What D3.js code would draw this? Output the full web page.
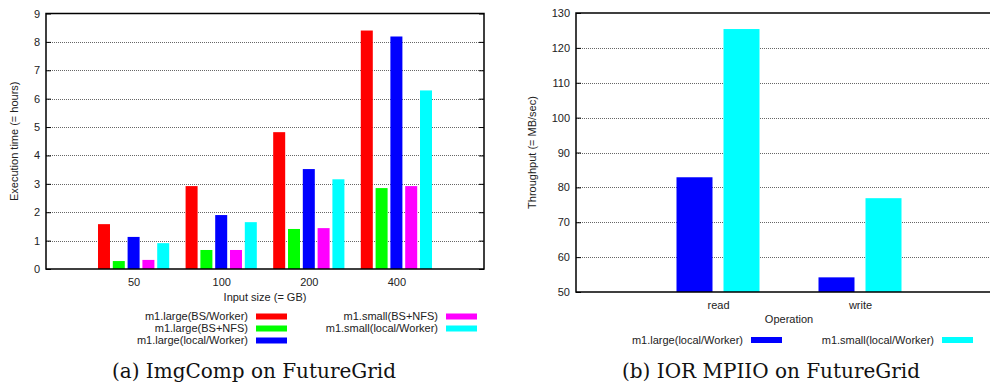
<!DOCTYPE html>
<html>
<head>
<meta charset="utf-8">
<script src="https://cdn.jsdelivr.net/npm/d3@7"></script>
<style>
  html, body { margin: 0; padding: 0; background: #fff; }
  svg { display: block; }
  text { font-family: "Liberation Sans", Arial, sans-serif; fill: #222; }
  .caption { font-family: "DejaVu Serif", "Liberation Serif", serif; fill: #111; }
</style>
</head>
<body>
<svg id="chart" width="990" height="383"></svg>
<script>
// ---- (a) ImgComp execution time ----
const sizeCategories = ["50", "100", "200", "400"];
const imgSeriesNames = [
  "m1.large(BS/Worker)",
  "m1.large(BS+NFS)",
  "m1.large(local/Worker)",
  "m1.small(BS+NFS)",
  "m1.small(local/Worker)"
];
const largeBsWorker   = [1.58, 2.92, 4.82, 8.40];
const largeBsNfs      = [0.28, 0.67, 1.41, 2.85];
const largeLocal      = [1.13, 1.90, 3.52, 8.19];
const smallBsNfs      = [0.32, 0.67, 1.44, 2.92];
const smallLocal      = [0.91, 1.65, 3.16, 6.29];
const imgTicks = [0, 1, 2, 3, 4, 5, 6, 7, 8, 9];

// ---- (b) IOR MPIIO throughput ----
const operations = ["read", "write"];
const iorSeriesNames = ["m1.large(local/Worker)", "m1.small(local/Worker)"];
const iorLarge = [82.9, 54.2];
const iorSmall = [125.4, 76.9];
const iorTicks = [50, 60, 70, 80, 90, 100, 110, 120, 130];

const imgColors = ["#ff0000", "#00ff00", "#0000ff", "#ff00ff", "#00ffff"];
const iorColors = ["#0000ff", "#00ffff"];

const svg = d3.select("#chart");

function drawPanel(cfg) {
  const g = svg.append("g");
  const x = d3.scaleLinear().domain(cfg.xDomain).range([cfg.left, cfg.right]);
  const y = d3.scaleLinear().domain(cfg.yDomain).range([cfg.bottom, cfg.top]);
  const clipRight = Math.min(cfg.right, 990);

  // dotted grid lines on interior ticks
  g.append("g").selectAll("line")
    .data(cfg.ticks.slice(1, -1))
    .join("line")
    .attr("x1", cfg.left).attr("x2", clipRight)
    .attr("y1", d => Math.round(y(d)) + 0.5).attr("y2", d => Math.round(y(d)) + 0.5)
    .attr("stroke", "#666").attr("stroke-width", 1)
    .attr("stroke-dasharray", "1,1");

  // bars
  const nS = cfg.series.length;
  cfg.series.forEach((vals, si) => {
    g.append("g").selectAll("rect")
      .data(vals)
      .join("rect")
      .attr("x", (d, ci) => x(ci + (si - (nS - 1) / 2) * cfg.step - cfg.barW / 2))
      .attr("width", x(cfg.barW) - x(0))
      .attr("y", d => y(d))
      .attr("height", d => y(cfg.yDomain[0]) - y(d))
      .attr("fill", cfg.colors[si]);
  });

  // left axis with inward ticks
  const yAxis = d3.axisLeft(y).tickValues(cfg.ticks).tickSize(-5).tickPadding(6)
    .tickFormat(d3.format("d"));
  const ya = g.append("g").attr("transform", `translate(${cfg.left},0)`).call(yAxis);
  ya.select(".domain").remove();
  ya.selectAll(".tick line").attr("stroke", "#000");
  ya.selectAll("text").style("font-size", "11px").attr("fill", "#222");

  // mirrored ticks on the right edge when visible
  if (cfg.right <= 990) {
    const yr = g.append("g").attr("transform", `translate(${cfg.right},0)`)
      .call(d3.axisRight(y).tickValues(cfg.ticks).tickSize(-5).tickFormat(""));
    yr.select(".domain").remove();
    yr.selectAll(".tick line").attr("stroke", "#000");
  }

  // category labels
  const xAxis = d3.axisBottom(x).tickValues(d3.range(cfg.categories.length))
    .tickSize(0).tickPadding(9).tickFormat(i => cfg.categories[i]);
  const xa = g.append("g").attr("transform", `translate(0,${cfg.bottom})`).call(xAxis);
  xa.select(".domain").remove();
  xa.selectAll("text").style("font-size", "11px").attr("fill", "#222");

  // frame
  const frame = g.append("path")
    .attr("fill", "none").attr("stroke", "#000").attr("stroke-width", 1.5);
  if (cfg.right <= 990) {
    frame.attr("d", `M${cfg.left},${cfg.top}H${cfg.right}V${cfg.bottom}H${cfg.left}Z`);
  } else {
    frame.attr("d", `M990,${cfg.top}H${cfg.left}V${cfg.bottom}H990`);
  }

  // axis titles
  g.append("text")
    .attr("transform", `translate(${cfg.yTitleX},${(cfg.top + cfg.bottom) / 2}) rotate(-90)`)
    .attr("text-anchor", "middle").attr("dy", "0.35em")
    .style("font-size", "11px").text(cfg.yTitle);
  g.append("text")
    .attr("x", (cfg.left + cfg.right) / 2).attr("y", cfg.xTitleY)
    .attr("text-anchor", "middle").style("font-size", "11px").text(cfg.xTitle);

  // legend
  cfg.legend.forEach((L, i) => {
    g.append("text")
      .attr("x", L.x).attr("y", L.y).attr("dy", "0.35em")
      .attr("text-anchor", "end").style("font-size", "11px").text(cfg.names[i]);
    g.append("rect")
      .attr("x", L.x + 8).attr("y", L.y - 3).attr("width", 31).attr("height", 6)
      .attr("fill", cfg.colors[i]);
  });

  // caption
  g.append("text").attr("class", "caption")
    .attr("x", cfg.captionX).attr("y", 378)
    .attr("text-anchor", "middle").style("font-size", "20px")
    .text(cfg.caption);
}

drawPanel({
  left: 46, right: 484, top: 13.5, bottom: 269,
  xDomain: [-1, 4], yDomain: [0, 9], ticks: imgTicks,
  categories: sizeCategories,
  series: [largeBsWorker, largeBsNfs, largeLocal, smallBsNfs, smallLocal],
  names: imgSeriesNames, colors: imgColors,
  step: 0.169, barW: 0.137,
  yTitle: "Execution time (= hours)", yTitleX: 14,
  xTitle: "Input size (= GB)", xTitleY: 301,
  legend: [
    { x: 248, y: 316.5 }, { x: 248, y: 328.5 }, { x: 248, y: 340.5 },
    { x: 438, y: 316.5 }, { x: 438, y: 328.5 }
  ],
  caption: "(a) ImgComp on FutureGrid", captionX: 254
});

drawPanel({
  left: 576, right: 1002, top: 13, bottom: 292,
  xDomain: [-1, 2], yDomain: [50, 130], ticks: iorTicks,
  categories: operations,
  series: [iorLarge, iorSmall],
  names: iorSeriesNames, colors: iorColors,
  step: 0.331, barW: 0.2535,
  yTitle: "Throughput (= MB/sec)", yTitleX: 532,
  xTitle: "Operation", xTitleY: 323,
  legend: [{ x: 743, y: 340 }, { x: 934, y: 340 }],
  caption: "(b) IOR MPIIO on FutureGrid", captionX: 771
});
</script>
</body>
</html>
